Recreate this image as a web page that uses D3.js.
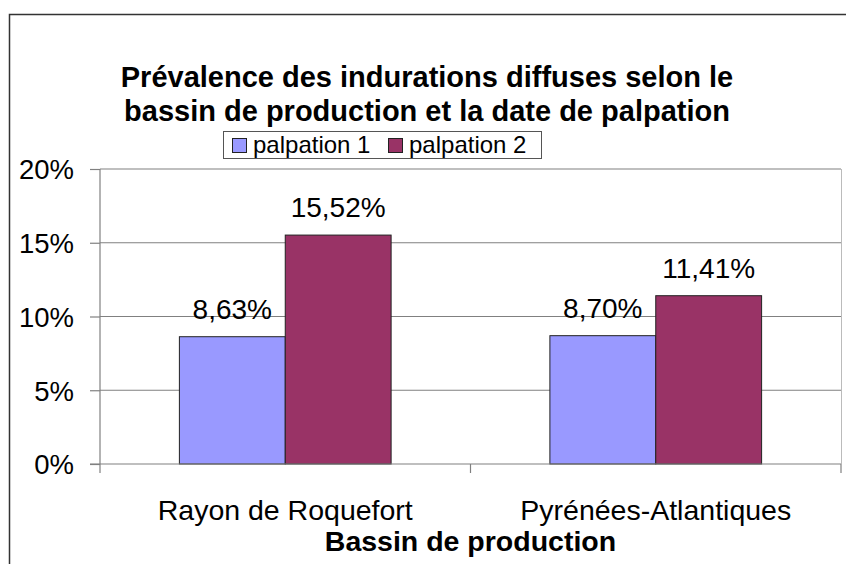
<!DOCTYPE html>
<html>
<head>
<meta charset="utf-8">
<script src="https://cdn.jsdelivr.net/npm/d3@7"></script>
<style>
  html, body { margin: 0; padding: 0; background: #fff; }
  svg { display: block; font-family: "Liberation Sans", Arial, sans-serif; }
</style>
</head>
<body>
<svg id="chart" width="846" height="564"></svg>
<script>
// ---- data ----
const categories = ['Rayon de Roquefort', 'Pyrénées-Atlantiques'];
const seriesNames = ['palpation 1', 'palpation 2'];
const palpation1 = [8.63, 8.70];
const palpation2 = [15.52, 11.41];
const yTicks = [0, 5, 10, 15, 20];
const titleLines = ['Prévalence des indurations diffuses selon le', 'bassin de production et la date de palpation'];
const xTitle = 'Bassin de production';

const colors = ['#9999ff', '#993366'];

// ---- layout ----
const plot = { left: 100, right: 841, top: 169, bottom: 464 };
const svg = d3.select('#chart');

// outer frame (only top/left visible in the crop)
svg.append('path')
  .attr('d', 'M9.5,570 V14.5 H850')
  .attr('fill', 'none')
  .attr('stroke', '#333')
  .attr('stroke-width', 1.5);

const x = d3.scaleBand().domain(categories).range([plot.left, plot.right]).padding(0);
const y = d3.scaleLinear().domain([0, 20]).range([plot.bottom, plot.top]);

// excel style: gap width 150% -> bar = band / 3.5
const barW = x.bandwidth() / 3.5;
const xSub = d3.scaleBand().domain(seriesNames)
  .range([0.75 * barW, 0.75 * barW + 2 * barW]).padding(0);

// gridlines
svg.append('g')
  .selectAll('line')
  .data(yTicks.filter(d => d > 0))
  .join('line')
  .attr('x1', plot.left).attr('x2', plot.right)
  .attr('y1', d => y(d)).attr('y2', d => y(d))
  .attr('stroke', '#808080').attr('stroke-width', 1.2);

// plot area right border
svg.append('line')
  .attr('x1', plot.right + 0.5).attr('x2', plot.right + 0.5)
  .attr('y1', plot.top).attr('y2', plot.bottom)
  .attr('stroke', '#bbbbbb').attr('stroke-width', 1);

// bars
const rows = categories.map((c, i) => ({ cat: c, vals: [palpation1[i], palpation2[i]] }));
const groups = svg.append('g').selectAll('g')
  .data(rows)
  .join('g')
  .attr('transform', d => `translate(${x(d.cat)},0)`);

groups.selectAll('rect')
  .data(d => d.vals.map((v, j) => ({ v, s: seriesNames[j], j })))
  .join('rect')
  .attr('x', d => xSub(d.s))
  .attr('width', xSub.bandwidth())
  .attr('y', d => y(d.v))
  .attr('height', d => y(0) - y(d.v))
  .attr('fill', d => colors[d.j])
  .attr('stroke', '#222')
  .attr('stroke-width', 1);

// data labels
const fmt = v => d3.format('.2f')(v).replace('.', ',') + '%';
groups.selectAll('text')
  .data(d => d.vals.map((v, j) => ({ v, s: seriesNames[j], j })))
  .join('text')
  .attr('x', d => xSub(d.s) + xSub.bandwidth() / 2)
  .attr('y', d => y(d.v) - 18)
  .attr('text-anchor', 'middle')
  .attr('font-size', 28)
  .attr('fill', '#000')
  .text(d => fmt(d.v));

// y axis
const yAxis = svg.append('g')
  .attr('transform', `translate(${plot.left},0)`)
  .call(d3.axisLeft(y).tickValues(yTicks).tickSize(10).tickPadding(16).tickFormat(d => d + '%'));
yAxis.select('.domain').remove();
yAxis.selectAll('.tick line').attr('stroke', '#808080').attr('stroke-width', 1.2);
yAxis.selectAll('.tick text')
  .attr('font-size', 27.5).attr('font-family', '"Liberation Sans", Arial, sans-serif')
  .attr('fill', '#000').attr('dy', '0.36em');
yAxis.append('line')
  .attr('x1', 0).attr('x2', 0).attr('y1', plot.top).attr('y2', plot.bottom + 9)
  .attr('stroke', '#808080').attr('stroke-width', 1.2);

// x axis
svg.append('line')
  .attr('x1', plot.left - 10).attr('x2', plot.right)
  .attr('y1', plot.bottom).attr('y2', plot.bottom)
  .attr('stroke', '#808080').attr('stroke-width', 1.2);
svg.append('g').selectAll('line')
  .data(categories.slice(1).concat(['__end']))
  .join('line')
  .attr('x1', d => d === '__end' ? plot.right : x(d))
  .attr('x2', d => d === '__end' ? plot.right : x(d))
  .attr('y1', plot.bottom).attr('y2', plot.bottom + 9)
  .attr('stroke', '#808080').attr('stroke-width', 1.2);

svg.append('g').selectAll('text')
  .data(categories)
  .join('text')
  .attr('x', d => x(d) + x.bandwidth() / 2)
  .attr('y', 520)
  .attr('text-anchor', 'middle')
  .attr('font-size', 28.5)
  .text(d => d);

svg.append('text')
  .attr('x', (plot.left + plot.right) / 2)
  .attr('y', 551)
  .attr('text-anchor', 'middle')
  .attr('font-size', 28.5)
  .attr('font-weight', 'bold')
  .text(xTitle);

// title
svg.append('g').selectAll('text')
  .data(titleLines)
  .join('text')
  .attr('x', 427)
  .attr('y', (d, i) => 87 + i * 34)
  .attr('text-anchor', 'middle')
  .attr('font-size', 29)
  .attr('font-weight', 'bold')
  .text(d => d);

// legend
const legend = svg.append('g');
legend.append('rect')
  .attr('x', 223.5).attr('y', 131.5).attr('width', 318).attr('height', 27)
  .attr('fill', '#fff').attr('stroke', '#555').attr('stroke-width', 1);
const legendX = [232, 388];
legend.selectAll('g')
  .data(seriesNames)
  .join('g')
  .attr('transform', (d, i) => `translate(${legendX[i]},0)`)
  .each(function (d, i) {
    const g = d3.select(this);
    g.append('rect')
      .attr('x', 0.5).attr('y', 138.5).attr('width', 14).attr('height', 14)
      .attr('fill', colors[i]).attr('stroke', '#222').attr('stroke-width', 1);
    g.append('text')
      .attr('x', 21).attr('y', 153)
      .attr('font-size', 24)
      .text(d);
  });
</script>
</body>
</html>
